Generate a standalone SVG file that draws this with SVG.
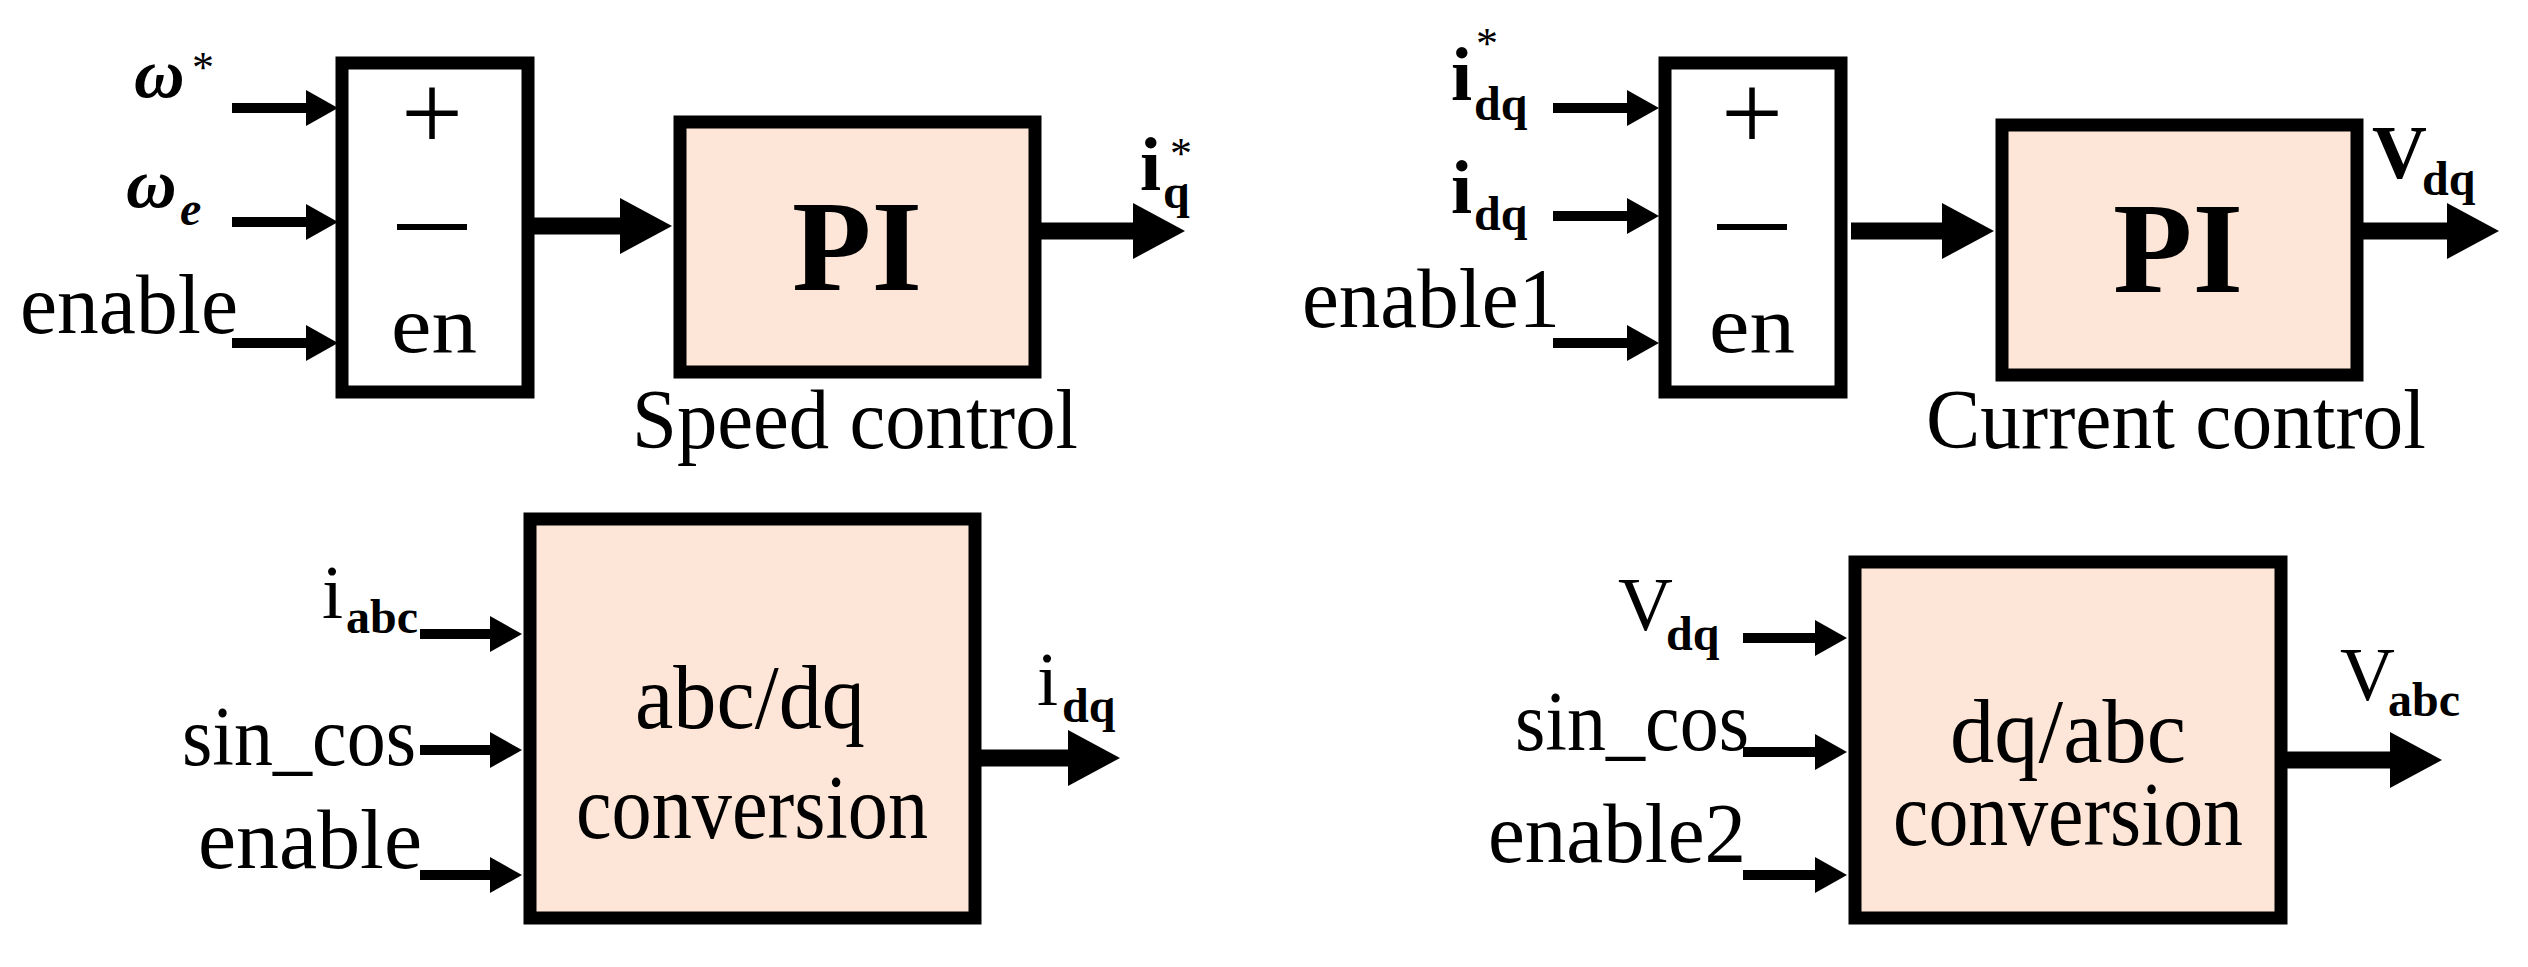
<svg xmlns="http://www.w3.org/2000/svg" width="2528" height="967" viewBox="0 0 2528 967">
<style>
.t{font-family:"Liberation Serif",serif;fill:#000}
.box{stroke:#000;stroke-width:13}
.pi{fill:#fde6d8}
.sum{fill:#fff}
.in{stroke:#000;stroke-width:10;fill:none}
.out{stroke:#000;stroke-width:17;fill:none}
</style>
<defs>
<marker id="ah" markerUnits="userSpaceOnUse" markerWidth="34" markerHeight="36" refX="0" refY="18" orient="auto"><path d="M0,0 L32,18 L0,36 Z" fill="#000"/></marker>
<marker id="ahb" markerUnits="userSpaceOnUse" markerWidth="54" markerHeight="56" refX="0" refY="28" orient="auto"><path d="M0,0 L52,28 L0,56 Z" fill="#000"/></marker>
</defs>
<g id="connectors">
<path class="in" d="M232,108 H306" marker-end="url(#ah)"/>
<path class="in" d="M232,222 H306" marker-end="url(#ah)"/>
<path class="in" d="M232,343 H306" marker-end="url(#ah)"/>
<path class="out" d="M534,226 H620" marker-end="url(#ahb)"/>
<path class="out" d="M1041,231 H1133" marker-end="url(#ahb)"/>
<path class="in" d="M1553,108 H1627" marker-end="url(#ah)"/>
<path class="in" d="M1553,216 H1627" marker-end="url(#ah)"/>
<path class="in" d="M1553,343 H1627" marker-end="url(#ah)"/>
<path class="out" d="M1851,231 H1942" marker-end="url(#ahb)"/>
<path class="out" d="M2363,231 H2447" marker-end="url(#ahb)"/>
<path class="in" d="M420,634 H490" marker-end="url(#ah)"/>
<path class="in" d="M420,750 H490" marker-end="url(#ah)"/>
<path class="in" d="M420,875 H490" marker-end="url(#ah)"/>
<path class="out" d="M981,758 H1068" marker-end="url(#ahb)"/>
<path class="in" d="M1743,638 H1815" marker-end="url(#ah)"/>
<path class="in" d="M1743,752 H1815" marker-end="url(#ah)"/>
<path class="in" d="M1743,875 H1815" marker-end="url(#ah)"/>
<path class="out" d="M2287,760 H2390" marker-end="url(#ahb)"/>
</g>
<g id="labels-tl">
<text class="t" x="134" y="97" font-size="70" font-style="italic" font-weight="bold">ω</text>
<text class="t" x="192" y="82" font-size="44">*</text>
<text class="t" x="126" y="207" font-size="70" font-style="italic" font-weight="bold">ω</text>
<text class="t" x="180" y="225" font-size="48" font-style="italic" font-weight="bold">e</text>
<text class="t" x="20" y="333" font-size="84" textLength="218" lengthAdjust="spacingAndGlyphs">enable</text>
<text class="t" x="1140" y="190" font-size="76" font-weight="bold">i</text>
<text class="t" x="1163" y="208" font-size="48" font-weight="bold">q</text>
<text class="t" x="1170" y="168" font-size="44">*</text>
</g>
<g id="sum1">
<rect class="box sum" x="342" y="63" width="186" height="329"/>
<text class="t" x="432" y="150" font-size="110" text-anchor="middle">+</text>
<rect x="397" y="224" width="70" height="6" fill="#000"/>
<text class="t" x="434" y="352" font-size="80" text-anchor="middle" textLength="86" lengthAdjust="spacingAndGlyphs">en</text>
</g>
<g id="pi1">
<rect class="box pi" x="680" y="122" width="355" height="250"/>
<text class="t" x="857" y="290" font-size="130" font-weight="bold" text-anchor="middle" textLength="130" lengthAdjust="spacingAndGlyphs">PI</text>
<text class="t" x="855" y="448" font-size="84" text-anchor="middle" textLength="446" lengthAdjust="spacingAndGlyphs">Speed control</text>
</g>
<g id="labels-tr">
<text class="t" x="1451" y="100" font-size="76" font-weight="bold">i</text>
<text class="t" x="1474" y="120" font-size="48" font-weight="bold">dq</text>
<text class="t" x="1476" y="58" font-size="44">*</text>
<text class="t" x="1451" y="213" font-size="76" font-weight="bold">i</text>
<text class="t" x="1474" y="230" font-size="48" font-weight="bold">dq</text>
<text class="t" x="1302" y="327" font-size="84" textLength="258" lengthAdjust="spacingAndGlyphs">enable1</text>
<text class="t" x="2372" y="178" font-size="76" font-weight="bold">V</text>
<text class="t" x="2422" y="195" font-size="48" font-weight="bold">dq</text>
</g>
<g id="sum2">
<rect class="box sum" x="1665" y="63" width="176" height="329"/>
<text class="t" x="1752" y="150" font-size="110" text-anchor="middle">+</text>
<rect x="1717" y="224" width="70" height="6" fill="#000"/>
<text class="t" x="1752" y="352" font-size="80" text-anchor="middle" textLength="86" lengthAdjust="spacingAndGlyphs">en</text>
</g>
<g id="pi2">
<rect class="box pi" x="2002" y="125" width="355" height="250"/>
<text class="t" x="2178" y="292" font-size="130" font-weight="bold" text-anchor="middle" textLength="130" lengthAdjust="spacingAndGlyphs">PI</text>
<text class="t" x="2176" y="448" font-size="84" text-anchor="middle" textLength="500" lengthAdjust="spacingAndGlyphs">Current control</text>
</g>
<g id="labels-bl">
<text class="t" x="322" y="618" font-size="76">i</text>
<text class="t" x="346" y="633" font-size="48" font-weight="bold">abc</text>
<text class="t" x="182" y="765" font-size="84" textLength="234" lengthAdjust="spacingAndGlyphs">sin_cos</text>
<text class="t" x="198" y="868" font-size="84" textLength="224" lengthAdjust="spacingAndGlyphs">enable</text>
<text class="t" x="1037" y="705" font-size="76">i</text>
<text class="t" x="1062" y="722" font-size="48" font-weight="bold">dq</text>
</g>
<g id="conv1">
<rect class="box pi" x="530" y="519" width="445" height="399"/>
<text class="t" x="750" y="728" font-size="90" text-anchor="middle" textLength="230" lengthAdjust="spacingAndGlyphs">abc/dq</text>
<text class="t" x="752" y="838" font-size="90" text-anchor="middle" textLength="352" lengthAdjust="spacingAndGlyphs">conversion</text>
</g>
<g id="labels-br">
<text class="t" x="1618" y="630" font-size="76">V</text>
<text class="t" x="1666" y="650" font-size="48" font-weight="bold">dq</text>
<text class="t" x="1515" y="750" font-size="84" textLength="234" lengthAdjust="spacingAndGlyphs">sin_cos</text>
<text class="t" x="1488" y="862" font-size="84" textLength="258" lengthAdjust="spacingAndGlyphs">enable2</text>
<text class="t" x="2340" y="700" font-size="76">V</text>
<text class="t" x="2388" y="716" font-size="48" font-weight="bold">abc</text>
</g>
<g id="conv2">
<rect class="box pi" x="1855" y="562" width="426" height="356"/>
<text class="t" x="2068" y="762" font-size="90" text-anchor="middle" textLength="236" lengthAdjust="spacingAndGlyphs">dq/abc</text>
<text class="t" x="2068" y="845" font-size="90" text-anchor="middle" textLength="350" lengthAdjust="spacingAndGlyphs">conversion</text>
</g>
</svg>
